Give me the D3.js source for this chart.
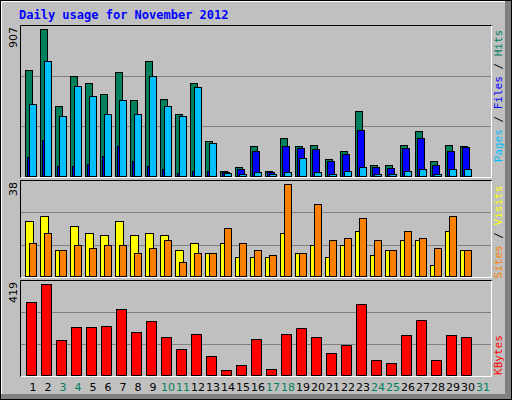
<!DOCTYPE html>
<html><head><meta charset="utf-8">
<script src="https://cdn.jsdelivr.net/npm/d3@7"></script>
<style>body{margin:0;background:#fff}</style>
</head><body><svg id="c" width="512" height="400"></svg>
<script>
const days = d3.range(1,32);
const weekend = [3,4,10,11,17,18,24,25,31];
const hits  = [655,907,433,618,575,507,642,470,710,476,384,575,218,35,60,187,39,236,193,199,113,162,402,76,76,199,279,95,199,193,0];
const files = [121,226,66,66,78,127,189,97,66,47,23,35,35,29,47,162,33,193,175,169,101,144,285,64,58,175,242,76,162,181,0];
const pages = [445,710,372,556,495,384,470,384,618,433,372,550,206,23,17,33,21,33,119,33,21,39,64,21,21,39,52,21,52,46,0];
const sites = [23,25,11,21,18,17,23,17,18,17,11,14,10,14,8,8,8,18,10,13,8,13,19,9,11,15,15,5,19,11,0];
const visits= [14,18,11,13,12,13,13,10,12,15,6,10,10,20,14,11,9,38,10,30,15,16,24,15,11,19,16,12,25,11,0];
const kbytes= [336,419,162,222,222,226,304,199,249,176,121,190,89,29,48,167,34,190,217,176,103,139,327,75,61,185,254,71,185,176,0];

const svg = d3.select("#c");
const G="#c0c0c0";
svg.append("rect").attr("width",512).attr("height",400).attr("fill",G);
// outer bevel
svg.append("rect").attr("x",0.5).attr("y",0.5).attr("width",511).attr("height",399).attr("fill","none").attr("stroke","#000");
svg.append("path").attr("d","M1.5,397V1.5H505").attr("stroke","#fff").attr("fill","none");
svg.append("rect").attr("x",505).attr("y",1).attr("width",6).attr("height",398).attr("fill","#808080");
svg.append("rect").attr("x",1).attr("y",394).attr("width",510).attr("height",5).attr("fill","#808080");

svg.append("text").attr("x",19).attr("y",19).attr("fill","#0000ff")
  .attr("font-family","DejaVu Sans Mono").attr("font-weight","bold").attr("font-size",12)
  .text("Daily usage for November 2012");

const x = d3.scaleLinear().domain([1,31]).range([33,483]);
const L=20,R=491;
function panel(top,bottom,maxY,maxVal,label){
  svg.append("path").attr("d",`M${L+0.5},${bottom+0.5}V${top+0.5}H${R+0.5}`).attr("stroke","#000").attr("fill","none");
  svg.append("path").attr("d",`M${L+1},${bottom+0.5}H${R+0.5}V${top+1}`).attr("stroke","#fff").attr("fill","none");
  const y = d3.scaleLinear().domain([0,maxVal]).range([bottom,maxY]);
  const h = bottom-top;
  [1/3,2/3].forEach(f=>svg.append("line").attr("x1",L+1).attr("x2",R).attr("y1",Math.round(bottom-h*f)+0.5).attr("y2",Math.round(bottom-h*f)+0.5).attr("stroke","#808080"));
  svg.append("text").attr("transform",`translate(17,${top+2}) rotate(-90)`).attr("text-anchor","end")
    .attr("font-family","DejaVu Sans").attr("font-size",11).attr("fill","#000").text(label);
  return y;
}
function bars(data,y,off,w,color){
  svg.append("g").selectAll("rect").data(data).join("rect")
    .attr("x",(d,i)=>Math.round(x(days[i]))+off+0.5).attr("y",d=>Math.round(y(d))+0.5)
    .attr("width",w).attr("height",d=>Math.max(0,y(0)-Math.round(y(d))-1))
    .attr("fill",color).attr("stroke","#000").attr("display",d=>d>0?null:"none");
}
const y1 = panel(25,177,29,907,"907");
bars(hits,y1,-8,7,"#00805c");
bars(files,y1,-6,7,"#0000ff");
bars(pages,y1,-4,7,"#00c0ff");
const y2 = panel(180,277,184,38,"38");
bars(sites,y2,-8,8,"#ffff00");
bars(visits,y2,-4,7,"#ff8000");
const y3 = panel(280,376,284,419,"419");
bars(kbytes,y3,-7,10,"#ff0000");

svg.append("g").selectAll("text").data(days).join("text")
  .attr("x",d=>x(d)).attr("y",391).attr("text-anchor","middle")
  .attr("font-family","DejaVu Sans").attr("font-size",11)
  .attr("fill",d=>weekend.includes(d)?"#00805c":"#000").text(d=>d);

function side(yc,parts){
  const t=svg.append("text").attr("transform",`translate(502,${yc}) rotate(-90)`).attr("text-anchor","middle")
   .attr("font-family","DejaVu Sans Mono").attr("font-size",11);
  parts.forEach(p=>t.append("tspan").attr("fill",p[1]).text(p[0]));
}
side(96,[["Pages","#00c0ff"],[" / ","#000"],["Files","#0000ff"],[" / ","#000"],["Hits","#00805c"]]);
side(232,[["Sites","#ff8000"],[" / ","#000"],["Visits","#ffff00"]]);
side(355,[["KBytes","#ff0000"]]);
</script></body></html>
